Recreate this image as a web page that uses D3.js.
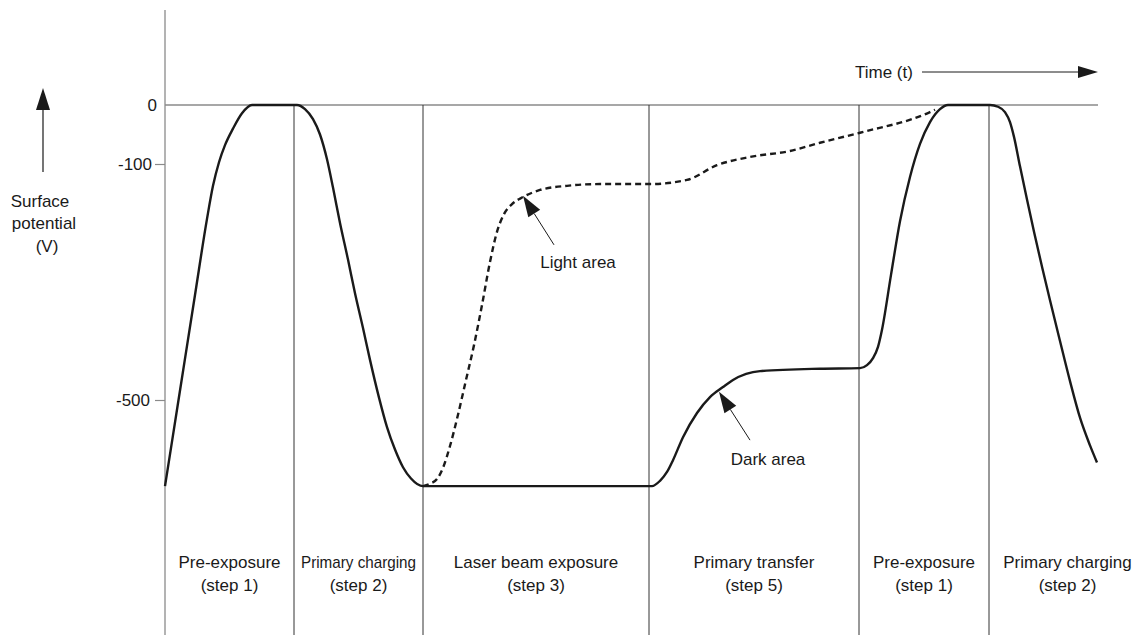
<!DOCTYPE html>
<html>
<head>
<meta charset="utf-8">
<script src="https://cdn.jsdelivr.net/npm/d3@7"></script>
<style>
  body { margin: 0; background: #fff; }
  text { font-family: Arial, "Liberation Sans", sans-serif; fill: #1a1a1a; }
</style>
</head>
<body>
<svg id="chart" width="1136" height="635"></svg>
<script>
// stage boundaries on the time axis (arbitrary units)
var stageStart = [0, 129, 258, 484, 694, 824];
var stageEnd = [129, 258, 484, 694, 824, 981];
var stageNames = ["Pre-exposure", "Primary charging", "Laser beam exposure", "Primary transfer", "Pre-exposure", "Primary charging"];
var stageSteps = ["(step 1)", "(step 2)", "(step 3)", "(step 5)", "(step 1)", "(step 2)"];

// dark area (solid) potential
var darkTime = [0, 15, 30, 42, 48, 54, 60, 68, 77, 87, 132,
  140, 148, 155, 162, 168, 175, 183, 190, 198, 205, 214, 222, 230, 238, 246, 258,
  487, 495, 502, 508, 518, 532, 545, 558, 568, 595, 655, 695,
  702, 708, 713, 717, 726, 735, 745, 755, 765, 775, 783, 825,
  833, 840, 845, 849, 855, 862, 869, 877, 885, 895, 905, 915, 925, 932];
var darkVolt = [-646, -484, -322, -193, -137, -97, -68, -40, -14, 0, 0,
  -7, -24, -50, -92, -140, -200, -262, -319, -378, -432, -496, -546, -584, -614, -633, -646,
  -646, -637, -622, -602, -563, -522, -495, -478, -466, -451, -447, -446,
  -441, -429, -410, -381, -288, -197, -122, -66, -29, -7, 0, 0,
  -3, -12, -29, -54, -104, -160, -215, -274, -331, -400, -468, -530, -577, -606];

// light area (dashed) potential
var lightTime = [258, 265, 272, 278, 285, 293, 301, 309, 317, 325, 332, 339, 347, 358, 375, 402, 435, 485,
  522, 552, 585, 625, 655, 695, 765, 770];
var lightVolt = [-646, -642, -634, -615, -578, -525, -466, -407, -339, -266, -215, -185, -168, -156, -144, -137, -134, -134,
  -127, -102, -88, -78, -64, -47, -12, -8];

var yTicks = [0, -100, -500];

// annotations: [label, tipT, tipV, tailT, tailV, labelT, labelV]
var notes = [
  ["Light area", 358, -154, 389, -237, 413, -276],
  ["Dark area", 554, -486, 585, -568, 603, -611]
];

var svg = d3.select("#chart");
var x = d3.scaleLinear().domain([0, 933]).range([165, 1098]);
var y = d3.scaleLinear().domain([0, -500]).range([105, 400]);

// vertical axis line
svg.append("line")
  .attr("x1", x(0)).attr("x2", x(0))
  .attr("y1", 10).attr("y2", 635)
  .attr("stroke", "#8a8a8a").attr("stroke-width", 1.3);

// zero line
svg.append("line")
  .attr("x1", x(0)).attr("x2", x(933))
  .attr("y1", y(0)).attr("y2", y(0))
  .attr("stroke", "#8a8a8a").attr("stroke-width", 1.3);

// y ticks
var axis = svg.append("g")
  .attr("transform", "translate(" + x(0) + ",0)")
  .call(d3.axisLeft(y).tickValues(yTicks).tickSize(10).tickPadding(3).tickFormat(function(d) { return String(d); }));
axis.select(".domain").remove();
axis.selectAll(".tick line").attr("stroke", "#8a8a8a").attr("stroke-width", 1.2);
axis.selectAll(".tick text")
  .attr("font-size", 17)
  .attr("font-family", "Arial, 'Liberation Sans', sans-serif")
  .attr("fill", "#1a1a1a");
axis.selectAll(".tick").filter(function(d) { return d === 0; })
  .each(function() {
    d3.select(this).select("line").remove();
    d3.select(this).select("text").attr("x", -8);
  });
axis.selectAll(".tick").filter(function(d) { return d === -500; })
  .select("text").attr("x", -15);

// stage dividers
svg.selectAll(".divider")
  .data(stageStart.slice(1))
  .enter().append("line")
  .attr("class", "divider")
  .attr("x1", function(d) { return x(d); })
  .attr("x2", function(d) { return x(d); })
  .attr("y1", y(0)).attr("y2", 635)
  .attr("stroke", "#333").attr("stroke-width", 1);

// stage labels
var labels = svg.selectAll(".stage")
  .data(stageNames)
  .enter().append("g")
  .attr("class", "stage")
  .attr("transform", function(d, i) { return "translate(" + x((stageStart[i] + stageEnd[i]) / 2) + ",0)"; });

labels.append("text")
  .attr("y", 568)
  .attr("text-anchor", "middle")
  .attr("font-size", 17)
  .text(function(d) { return d; })
  .each(function(d, i) {
    if (i === 1) d3.select(this).attr("textLength", 115).attr("lengthAdjust", "spacingAndGlyphs");
  });

labels.append("text")
  .attr("y", 591)
  .attr("text-anchor", "middle")
  .attr("font-size", 17)
  .text(function(d, i) { return stageSteps[i]; });

// curves
var line = d3.line()
  .x(function(d) { return x(d[0]); })
  .y(function(d) { return y(d[1]); })
  .curve(d3.curveMonotoneX);

svg.append("path")
  .datum(lightTime.map(function(t, i) { return [t, lightVolt[i]]; }))
  .attr("d", line)
  .attr("fill", "none")
  .attr("stroke", "#1a1a1a")
  .attr("stroke-width", 2.4)
  .attr("stroke-dasharray", "6,4");

svg.append("path")
  .datum(darkTime.map(function(t, i) { return [t, darkVolt[i]]; }))
  .attr("d", line)
  .attr("fill", "none")
  .attr("stroke", "#1a1a1a")
  .attr("stroke-width", 2.4);

// arrow helper
function arrow(x1, y1, x2, y2, len, half, width) {
  var a = Math.atan2(y2 - y1, x2 - x1);
  var bx = x2 - len * Math.cos(a), by = y2 - len * Math.sin(a);
  svg.append("line")
    .attr("x1", x1).attr("y1", y1).attr("x2", bx).attr("y2", by)
    .attr("stroke", "#1a1a1a").attr("stroke-width", width);
  var px = -Math.sin(a) * half, py = Math.cos(a) * half;
  svg.append("polygon")
    .attr("points", [[x2, y2], [bx + px, by + py], [bx - px, by - py]].map(function(p) { return p.join(","); }).join(" "))
    .attr("fill", "#1a1a1a");
}

// annotations
notes.forEach(function(n) {
  arrow(x(n[3]), y(n[4]), x(n[1]), y(n[2]), 21, 7, 1);
  svg.append("text")
    .attr("x", x(n[5])).attr("y", y(n[6]))
    .attr("text-anchor", "middle")
    .attr("font-size", 17)
    .text(n[0]);
});

// time arrow
svg.append("text")
  .attr("x", 855).attr("y", 78)
  .attr("font-size", 17)
  .text("Time (t)");
arrow(922, 72, 1098, 72, 20, 6, 1);

// surface potential label and arrow
arrow(43, 172, 43, 88, 22, 7, 1.2);
var ylab = [["Surface", 40, 207], ["potential", 44, 229], ["(V)", 47, 252]];
svg.selectAll(".ylab")
  .data(ylab)
  .enter().append("text")
  .attr("class", "ylab")
  .attr("x", function(d) { return d[1]; })
  .attr("y", function(d) { return d[2]; })
  .attr("text-anchor", "middle")
  .attr("font-size", 17)
  .text(function(d) { return d[0]; });
</script>
</body>
</html>
